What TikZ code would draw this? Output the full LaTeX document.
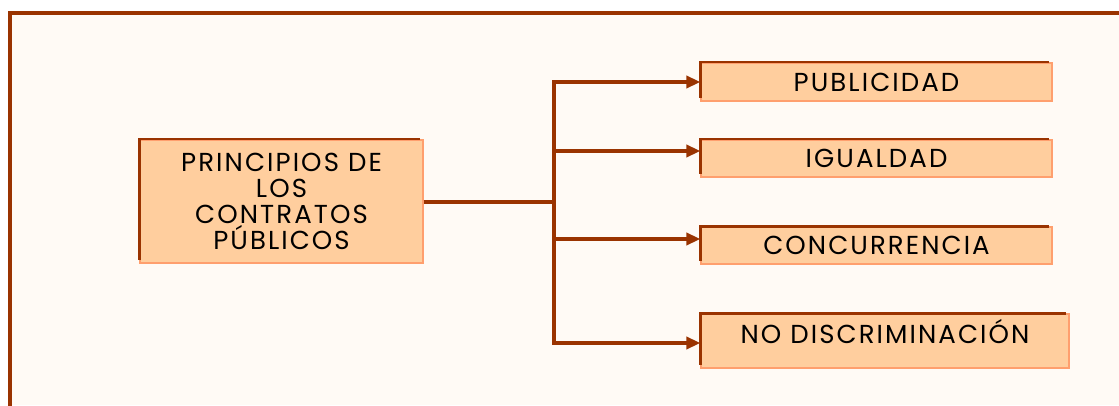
\documentclass[tikz,border=0pt]{standalone}
\usepackage{fontspec}
\setmainfont{Poppins}[LetterSpace=8]
\usetikzlibrary{arrows.meta,positioning}
\definecolor{marron}{HTML}{9A3300}
\definecolor{melocoton}{HTML}{FFCE9E}
\definecolor{naranja}{HTML}{FF9F6E}
\definecolor{fondo}{HTML}{FFFAF5}

\begin{document}
\begin{tikzpicture}[x=1pt, y=1pt,
    caja/.style = {fill=melocoton, draw=naranja, line width=1.2pt, inner sep=0pt,
                   font=\fontsize{26}{26}\selectfont},
    linea/.style = {draw=marron, line width=4pt},
    flecha/.style = {linea, -{Triangle[length=14pt,width=12pt]}}]

    \useasboundingbox (0,0) rectangle (1119,405);
    % marco
    \fill[fondo] (10,0) rectangle (1125,392);
    \draw[marron, line width=3.5pt] (10,-5) -- (10,392) -- (1125,392);

    \node[caja, minimum width=283pt, minimum height=123pt, align=center] (p) at (281.5,203.5)
        {PRINCIPIOS DE\\LOS\\CONTRATOS\\PÚBLICOS};

    \node[caja, minimum width=351pt, minimum height=38pt] (pub) at (876.5,323) {PUBLICIDAD};
    \node[caja, minimum width=351pt, minimum height=37pt] (igu) at (876.5,246.5) {IGUALDAD};
    \node[caja, minimum width=351pt, minimum height=37pt] (con) at (876.5,159.5) {CONCURRENCIA};
    \node[caja, minimum width=368pt, text height=29.5pt, text depth=24.5pt] (nod) at (885,64) {NO DISCRIMINACIÓN};

    % bordes oscuros
    \foreach \n in {p,pub,igu,con,nod}
        \draw[marron, line width=2.2pt] ([yshift=4pt]\n.south west) |- ([xshift=-4pt]\n.north east);

    \coordinate (a1) at (554,323);
    \coordinate (a2) at (554,254);
    \coordinate (a3) at (554,166);
    \coordinate (a4) at (554,62);

    \draw[linea] (p.east) -- (p.east -| a1);
    \draw[linea, line cap=rect] (a1) -- (a4);
    \foreach \a/\b in {a1/pub, a2/igu, a3/con, a4/nod}
        \draw[flecha] (\a) -- (\a -| \b.west);
\end{tikzpicture}
\end{document}
